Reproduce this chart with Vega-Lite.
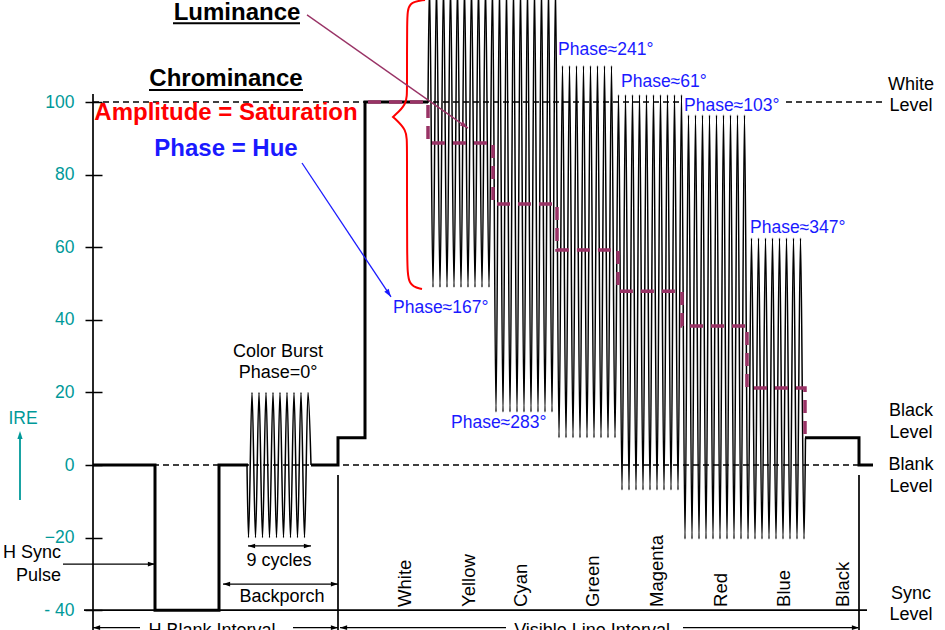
{
  "$schema": "https://vega.github.io/schema/vega-lite/v6.json",
  "width": 945,
  "height": 630,
  "padding": 0,
  "autosize": {"type": "none"},
  "background": "white",
  "config": {"view": {"stroke": null}, "font": "Liberation Sans", "text": {"font": "Liberation Sans"}},
  "datasets": {
    "sync": [
      {"s": "a", "o": 1, "x": 93, "y": 0}, {"s": "a", "o": 2, "x": 155, "y": 0}, {"s": "a", "o": 3, "x": 155, "y": -40},
      {"s": "a", "o": 4, "x": 219, "y": -40}, {"s": "a", "o": 5, "x": 219, "y": 0}, {"s": "a", "o": 6, "x": 248, "y": 0},
      {"s": "b", "o": 1, "x": 311, "y": 0}, {"s": "b", "o": 2, "x": 338, "y": 0}, {"s": "b", "o": 3, "x": 338, "y": 7.5},
      {"s": "b", "o": 4, "x": 365, "y": 7.5}, {"s": "b", "o": 5, "x": 365, "y": 100}, {"s": "b", "o": 6, "x": 428, "y": 100},
      {"s": "c", "o": 1, "x": 805, "y": 7.5}, {"s": "c", "o": 2, "x": 859, "y": 7.5}, {"s": "c", "o": 3, "x": 859, "y": 0},
      {"s": "c", "o": 4, "x": 873, "y": 0}
    ],
    "chroma": [
      {"s": "burst", "x": 247, "y": 0},
      {"s": "burst", "x": 248.5, "y": -20}, {"s": "burst", "x": 252, "y": 20}, {"s": "burst", "x": 255.5, "y": -20},
      {"s": "burst", "x": 259, "y": 20}, {"s": "burst", "x": 262.5, "y": -20}, {"s": "burst", "x": 266, "y": 20},
      {"s": "burst", "x": 269.5, "y": -20}, {"s": "burst", "x": 273, "y": 20}, {"s": "burst", "x": 276.5, "y": -20},
      {"s": "burst", "x": 280, "y": 20}, {"s": "burst", "x": 283.5, "y": -20}, {"s": "burst", "x": 287, "y": 20},
      {"s": "burst", "x": 290.5, "y": -20}, {"s": "burst", "x": 294, "y": 20}, {"s": "burst", "x": 297.5, "y": -20},
      {"s": "burst", "x": 301, "y": 20}, {"s": "burst", "x": 304.5, "y": -20}, {"s": "burst", "x": 308, "y": 20},
      {"s": "burst", "x": 311, "y": 0},
      {"s": "bars", "x": 428, "y": 100},
      {"s": "bars", "x": 429.5, "y": 133}, {"s": "bars", "x": 433, "y": 49}, {"s": "bars", "x": 436.5, "y": 133},
      {"s": "bars", "x": 440, "y": 49}, {"s": "bars", "x": 443.5, "y": 133}, {"s": "bars", "x": 447, "y": 49},
      {"s": "bars", "x": 450.5, "y": 133}, {"s": "bars", "x": 454, "y": 49}, {"s": "bars", "x": 457.5, "y": 133},
      {"s": "bars", "x": 461, "y": 49}, {"s": "bars", "x": 464.5, "y": 133}, {"s": "bars", "x": 468, "y": 49},
      {"s": "bars", "x": 471.5, "y": 133}, {"s": "bars", "x": 475, "y": 49}, {"s": "bars", "x": 478.5, "y": 133},
      {"s": "bars", "x": 482, "y": 49}, {"s": "bars", "x": 485.5, "y": 133}, {"s": "bars", "x": 489, "y": 49},
      {"s": "bars", "x": 492.5, "y": 133},
      {"s": "bars", "x": 496, "y": 14.6}, {"s": "bars", "x": 499.5, "y": 133}, {"s": "bars", "x": 503, "y": 14.6},
      {"s": "bars", "x": 506.5, "y": 133}, {"s": "bars", "x": 510, "y": 14.6}, {"s": "bars", "x": 513.5, "y": 133},
      {"s": "bars", "x": 517, "y": 14.6}, {"s": "bars", "x": 520.5, "y": 133}, {"s": "bars", "x": 524, "y": 14.6},
      {"s": "bars", "x": 527.5, "y": 133}, {"s": "bars", "x": 531, "y": 14.6}, {"s": "bars", "x": 534.5, "y": 133},
      {"s": "bars", "x": 538, "y": 14.6}, {"s": "bars", "x": 541.5, "y": 133}, {"s": "bars", "x": 545, "y": 14.6},
      {"s": "bars", "x": 548.5, "y": 133}, {"s": "bars", "x": 552, "y": 14.6}, {"s": "bars", "x": 555.5, "y": 133},
      {"s": "bars", "x": 559, "y": 7.5}, {"s": "bars", "x": 562.5, "y": 110}, {"s": "bars", "x": 566, "y": 7.5},
      {"s": "bars", "x": 569.5, "y": 110}, {"s": "bars", "x": 573, "y": 7.5}, {"s": "bars", "x": 576.5, "y": 110},
      {"s": "bars", "x": 580, "y": 7.5}, {"s": "bars", "x": 583.5, "y": 110}, {"s": "bars", "x": 587, "y": 7.5},
      {"s": "bars", "x": 590.5, "y": 110}, {"s": "bars", "x": 594, "y": 7.5}, {"s": "bars", "x": 597.5, "y": 110},
      {"s": "bars", "x": 601, "y": 7.5}, {"s": "bars", "x": 604.5, "y": 110}, {"s": "bars", "x": 608, "y": 7.5},
      {"s": "bars", "x": 611.5, "y": 110}, {"s": "bars", "x": 615, "y": 7.5},
      {"s": "bars", "x": 618.5, "y": 102}, {"s": "bars", "x": 622, "y": -6.9}, {"s": "bars", "x": 625.5, "y": 102},
      {"s": "bars", "x": 629, "y": -6.9}, {"s": "bars", "x": 632.5, "y": 102}, {"s": "bars", "x": 636, "y": -6.9},
      {"s": "bars", "x": 639.5, "y": 102}, {"s": "bars", "x": 643, "y": -6.9}, {"s": "bars", "x": 646.5, "y": 102},
      {"s": "bars", "x": 650, "y": -6.9}, {"s": "bars", "x": 653.5, "y": 102}, {"s": "bars", "x": 657, "y": -6.9},
      {"s": "bars", "x": 660.5, "y": 102}, {"s": "bars", "x": 664, "y": -6.9}, {"s": "bars", "x": 667.5, "y": 102},
      {"s": "bars", "x": 671, "y": -6.9}, {"s": "bars", "x": 674.5, "y": 102}, {"s": "bars", "x": 678, "y": -6.9},
      {"s": "bars", "x": 681.5, "y": 102},
      {"s": "bars", "x": 685, "y": -20.4}, {"s": "bars", "x": 688.5, "y": 96.4}, {"s": "bars", "x": 692, "y": -20.4},
      {"s": "bars", "x": 695.5, "y": 96.4}, {"s": "bars", "x": 699, "y": -20.4}, {"s": "bars", "x": 702.5, "y": 96.4},
      {"s": "bars", "x": 706, "y": -20.4}, {"s": "bars", "x": 709.5, "y": 96.4}, {"s": "bars", "x": 713, "y": -20.4},
      {"s": "bars", "x": 716.5, "y": 96.4}, {"s": "bars", "x": 720, "y": -20.4}, {"s": "bars", "x": 723.5, "y": 96.4},
      {"s": "bars", "x": 727, "y": -20.4}, {"s": "bars", "x": 730.5, "y": 96.4}, {"s": "bars", "x": 734, "y": -20.4},
      {"s": "bars", "x": 737.5, "y": 96.4}, {"s": "bars", "x": 741, "y": -20.4}, {"s": "bars", "x": 744.5, "y": 96.4},
      {"s": "bars", "x": 748, "y": -20.4}, {"s": "bars", "x": 751.5, "y": 62.5}, {"s": "bars", "x": 755, "y": -20.4},
      {"s": "bars", "x": 758.5, "y": 62.5}, {"s": "bars", "x": 762, "y": -20.4}, {"s": "bars", "x": 765.5, "y": 62.5},
      {"s": "bars", "x": 769, "y": -20.4}, {"s": "bars", "x": 772.5, "y": 62.5}, {"s": "bars", "x": 776, "y": -20.4},
      {"s": "bars", "x": 779.5, "y": 62.5}, {"s": "bars", "x": 783, "y": -20.4}, {"s": "bars", "x": 786.5, "y": 62.5},
      {"s": "bars", "x": 790, "y": -20.4}, {"s": "bars", "x": 793.5, "y": 62.5}, {"s": "bars", "x": 797, "y": -20.4},
      {"s": "bars", "x": 800.5, "y": 62.5}, {"s": "bars", "x": 804, "y": -20.4},
      {"s": "bars", "x": 805.5, "y": 7.5}
    ],
    "luma": [
      {"o": 1, "x": 368, "y": 100}, {"o": 2, "x": 428, "y": 100}, {"o": 3, "x": 428, "y": 88.7}, {"o": 4, "x": 493, "y": 88.7},
      {"o": 5, "x": 493, "y": 71.9}, {"o": 6, "x": 557, "y": 71.9}, {"o": 7, "x": 557, "y": 59.2}, {"o": 8, "x": 618, "y": 59.2},
      {"o": 9, "x": 618, "y": 47.9}, {"o": 10, "x": 682, "y": 47.9}, {"o": 11, "x": 682, "y": 38.3}, {"o": 12, "x": 747, "y": 38.3},
      {"o": 13, "x": 747, "y": 21.2}, {"o": 14, "x": 805, "y": 21.2}, {"o": 15, "x": 805, "y": 7.5}
    ],
    "brace": [
      {"o": 1, "x": 425, "y": 128.1}, {"o": 2, "x": 408, "y": 127.5}, {"o": 3, "x": 407, "y": 123.1}, {"o": 4, "x": 407, "y": 103.3},
      {"o": 5, "x": 407, "y": 99.4}, {"o": 6, "x": 393, "y": 95.9}, {"o": 7, "x": 393, "y": 95.9}, {"o": 8, "x": 393, "y": 95.9},
      {"o": 9, "x": 407, "y": 92.3}, {"o": 10, "x": 407, "y": 88.4}, {"o": 11, "x": 407, "y": 55.9}, {"o": 12, "x": 408, "y": 49.3},
      {"o": 13, "x": 422, "y": 48.5}, {"o": 14, "x": 422, "y": 48.5}, {"o": 15, "x": 422, "y": 48.5}
    ],
    "dashed": [
      {"x": 93, "x2": 682, "y": 100, "y2": 100},
      {"x": 786, "x2": 883, "y": 100, "y2": 100},
      {"x": 93, "x2": 873, "y": 0, "y2": 0}
    ],
    "thin": [
      {"x": 93, "x2": 93, "y": 102.2, "y2": -45.45},
      {"x": 84, "x2": 867, "y": -40, "y2": -40},
      {"x": 338, "x2": 338, "y": -2.75, "y2": -45.45},
      {"x": 859, "x2": 859, "y": -2.75, "y2": -45.45}
    ],
    "arrowlines": [
      {"x": 248, "x2": 311, "y": -22.3, "y2": -22.3},
      {"x": 223, "x2": 338, "y": -32.8, "y2": -32.8},
      {"x": 63, "x2": 154, "y": -27.3, "y2": -27.3},
      {"x": 93, "x2": 140, "y": -44.8, "y2": -44.8},
      {"x": 293, "x2": 338, "y": -44.8, "y2": -44.8},
      {"x": 340, "x2": 506, "y": -44.8, "y2": -44.8},
      {"x": 683, "x2": 858, "y": -44.8, "y2": -44.8}
    ],
    "heads": [
      {"x": 248, "y": -22.3, "a": 270}, {"x": 311, "y": -22.3, "a": 90},
      {"x": 223, "y": -32.8, "a": 270}, {"x": 338, "y": -32.8, "a": 90},
      {"x": 155, "y": -27.3, "a": 90},
      {"x": 93, "y": -44.8, "a": 270}, {"x": 338, "y": -44.8, "a": 90},
      {"x": 340, "y": -44.8, "a": 270}, {"x": 859, "y": -44.8, "a": 90}
    ],
    "underlines": [
      {"x": 173, "x2": 300, "y": 121.7, "y2": 121.7},
      {"x": 149, "x2": 303, "y": 103.3, "y2": 103.3}
    ],
    "ire": [{"x": 20, "x2": 20, "y": -9.64, "y2": 8.5, "a": 0, "hy": 9.4}],
    "lumarrow": [{"x": 307, "y": 124, "x2": 468, "y2": 92.8, "a": 125.5}],
    "huearrow": [{"x": 302, "y": 83.2, "x2": 391, "y2": 46.3, "a": 146}],
    "texts": [
      {"k": "title", "t": "Luminance", "x": 237, "y": 122.7},
      {"k": "title", "t": "Chrominance", "x": 226, "y": 104.4},
      {"k": "red", "t": "Amplitude = Saturation", "x": 226, "y": 95.0},
      {"k": "bluebold", "t": "Phase = Hue", "x": 226, "y": 85.1},
      {"k": "phase", "t": "Phase≈241°", "x": 558, "y": 114.3},
      {"k": "phase", "t": "Phase≈61°", "x": 621, "y": 105.5},
      {"k": "phase", "t": "Phase≈103°", "x": 684, "y": 98.9},
      {"k": "phase", "t": "Phase≈347°", "x": 750, "y": 65.3},
      {"k": "phase", "t": "Phase≈167°", "x": 393, "y": 43.3},
      {"k": "phase", "t": "Phase≈283°", "x": 451, "y": 11.6},
      {"k": "note", "t": "Color Burst", "x": 278, "y": 31.1},
      {"k": "note", "t": "Phase=0°", "x": 278, "y": 25.3},
      {"k": "note", "t": "9 cycles", "x": 279, "y": -26.4},
      {"k": "note", "t": "Backporch", "x": 282, "y": -36.4},
      {"k": "note", "t": "White", "x": 911, "y": 104.7},
      {"k": "note", "t": "Level", "x": 911, "y": 98.9},
      {"k": "note", "t": "Black", "x": 911, "y": 14.9},
      {"k": "note", "t": "Level", "x": 911, "y": 8.8},
      {"k": "note", "t": "Blank", "x": 911, "y": 0},
      {"k": "note", "t": "Level", "x": 911, "y": -6.1},
      {"k": "note", "t": "Sync", "x": 911, "y": -35.5},
      {"k": "note", "t": "Level", "x": 911, "y": -41.3},
      {"k": "bottom", "t": "H Blank Interval", "x": 212, "y": -47.1},
      {"k": "bottom", "t": "Visible Line Interval", "x": 592, "y": -47.1},
      {"k": "hsync", "t": "H Sync", "x": 61, "y": -24.3},
      {"k": "hsync", "t": "Pulse", "x": 61, "y": -30.5},
      {"k": "ire", "t": "IRE", "x": 23, "y": 12.7},
      {"k": "vert", "t": "White", "x": 404.5, "y": -39.1},
      {"k": "vert", "t": "Yellow", "x": 469, "y": -39.1},
      {"k": "vert", "t": "Cyan", "x": 521, "y": -39.1},
      {"k": "vert", "t": "Green", "x": 593, "y": -39.1},
      {"k": "vert", "t": "Magenta", "x": 657, "y": -39.1},
      {"k": "vert", "t": "Red", "x": 721, "y": -39.1},
      {"k": "vert", "t": "Blue", "x": 784, "y": -39.1},
      {"k": "vert", "t": "Black", "x": 843, "y": -39.1}
    ]
  },
  "encoding": {
    "x": {"field": "x", "type": "quantitative", "scale": {"domain": [0, 945], "nice": false, "zero": false}, "axis": null},
    "y": {
      "field": "y", "type": "quantitative",
      "scale": {"domain": [-45.45, 128.1], "nice": false, "zero": false},
      "axis": {
        "title": null, "offset": -102, "domain": false, "grid": false,
        "values": [-40, -20, 0, 20, 40, 60, 80, 100],
        "tickSize": 17, "tickColor": "black", "tickWidth": 1.5,
        "labelPadding": 11, "labelColor": "#009999", "labelFontSize": 17.5, "labelFont": "Liberation Sans",
        "labelExpr": "datum.value == -40 ? '- 40' : datum.label"
      }
    }
  },
  "layer": [
    {"data": {"name": "chroma"}, "mark": {"type": "line", "interpolate": "monotone", "color": "black", "strokeWidth": 1.5, "clip": true},
     "encoding": {"detail": {"field": "s"}}},
    {"data": {"name": "dashed"}, "mark": {"type": "rule", "color": "black", "strokeWidth": 1.3, "strokeDash": [6, 4]},
     "encoding": {"x2": {"field": "x2"}, "y2": {"field": "y2"}}},
    {"data": {"name": "thin"}, "mark": {"type": "rule", "color": "black", "strokeWidth": 1.7},
     "encoding": {"x2": {"field": "x2"}, "y2": {"field": "y2"}}},
    {"data": {"name": "sync"}, "mark": {"type": "line", "color": "black", "strokeWidth": 3, "strokeJoin": "miter"},
     "encoding": {"detail": {"field": "s"}, "order": {"field": "o", "type": "quantitative"}}},
    {"data": {"name": "luma"}, "mark": {"type": "line", "color": "#993366", "strokeWidth": 3.5, "strokeDash": [13, 8]},
     "encoding": {"order": {"field": "o", "type": "quantitative"}}},
    {"data": {"name": "brace"}, "mark": {"type": "line", "color": "#FF0000", "strokeWidth": 2, "interpolate": "basis", "clip": true},
     "encoding": {"order": {"field": "o", "type": "quantitative"}}},
    {"data": {"name": "arrowlines"}, "mark": {"type": "rule", "color": "black", "strokeWidth": 1.3},
     "encoding": {"x2": {"field": "x2"}, "y2": {"field": "y2"}}},
    {"data": {"name": "heads"}, "mark": {"type": "point", "shape": "M0,0L-0.55,1.7L0.55,1.7Z", "filled": true, "size": 70, "color": "black", "opacity": 1},
     "encoding": {"angle": {"field": "a", "type": "quantitative", "scale": null}}},
    {"data": {"name": "underlines"}, "mark": {"type": "rule", "color": "black", "strokeWidth": 2},
     "encoding": {"x2": {"field": "x2"}, "y2": {"field": "y2"}}},
    {"data": {"name": "ire"}, "mark": {"type": "rule", "color": "#009999", "strokeWidth": 1.8},
     "encoding": {"x2": {"field": "x2"}, "y2": {"field": "y2"}}},
    {"data": {"name": "ire"}, "mark": {"type": "point", "shape": "M0,0L-0.55,1.7L0.55,1.7Z", "filled": true, "size": 90, "color": "#009999", "opacity": 1},
     "encoding": {"y": {"field": "hy", "type": "quantitative"}, "angle": {"field": "a", "type": "quantitative", "scale": null}}},
    {"data": {"name": "lumarrow"}, "mark": {"type": "rule", "color": "#993366", "strokeWidth": 1.3},
     "encoding": {"x2": {"field": "x2"}, "y2": {"field": "y2"}}},
    {"data": {"name": "lumarrow"}, "mark": {"type": "point", "shape": "M0,0L-0.55,1.7L0.55,1.7Z", "filled": true, "size": 90, "color": "#993366", "opacity": 1},
     "encoding": {"x": {"field": "x2", "type": "quantitative"}, "y": {"field": "y2", "type": "quantitative"}, "angle": {"field": "a", "type": "quantitative", "scale": null}}},
    {"data": {"name": "huearrow"}, "mark": {"type": "rule", "color": "#1a1aff", "strokeWidth": 1.3},
     "encoding": {"x2": {"field": "x2"}, "y2": {"field": "y2"}}},
    {"data": {"name": "huearrow"}, "mark": {"type": "point", "shape": "M0,0L-0.55,1.7L0.55,1.7Z", "filled": true, "size": 90, "color": "#1a1aff", "opacity": 1},
     "encoding": {"x": {"field": "x2", "type": "quantitative"}, "y": {"field": "y2", "type": "quantitative"}, "angle": {"field": "a", "type": "quantitative", "scale": null}}},
    {"data": {"name": "texts"}, "transform": [{"filter": "datum.k == 'title'"}],
     "mark": {"type": "text", "fontSize": 24, "fontWeight": "bold", "color": "black", "align": "center", "baseline": "alphabetic"},
     "encoding": {"text": {"field": "t"}}},
    {"data": {"name": "texts"}, "transform": [{"filter": "datum.k == 'red'"}],
     "mark": {"type": "text", "fontSize": 24, "fontWeight": "bold", "color": "#FF0000", "align": "center", "baseline": "alphabetic"},
     "encoding": {"text": {"field": "t"}}},
    {"data": {"name": "texts"}, "transform": [{"filter": "datum.k == 'bluebold'"}],
     "mark": {"type": "text", "fontSize": 24, "fontWeight": "bold", "color": "#1a1aff", "align": "center", "baseline": "alphabetic"},
     "encoding": {"text": {"field": "t"}}},
    {"data": {"name": "texts"}, "transform": [{"filter": "datum.k == 'phase'"}],
     "mark": {"type": "text", "fontSize": 17.5, "color": "#1a1aff", "align": "left", "baseline": "middle"},
     "encoding": {"text": {"field": "t"}}},
    {"data": {"name": "texts"}, "transform": [{"filter": "datum.k == 'note'"}],
     "mark": {"type": "text", "fontSize": 18, "color": "black", "align": "center", "baseline": "middle"},
     "encoding": {"text": {"field": "t"}}},
    {"data": {"name": "texts"}, "transform": [{"filter": "datum.k == 'bottom'"}],
     "mark": {"type": "text", "fontSize": 18, "color": "black", "align": "center", "baseline": "alphabetic"},
     "encoding": {"text": {"field": "t"}}},
    {"data": {"name": "texts"}, "transform": [{"filter": "datum.k == 'hsync'"}],
     "mark": {"type": "text", "fontSize": 18, "color": "black", "align": "right", "baseline": "middle"},
     "encoding": {"text": {"field": "t"}}},
    {"data": {"name": "texts"}, "transform": [{"filter": "datum.k == 'ire'"}],
     "mark": {"type": "text", "fontSize": 17.5, "color": "#009999", "align": "center", "baseline": "middle"},
     "encoding": {"text": {"field": "t"}}},
    {"data": {"name": "texts"}, "transform": [{"filter": "datum.k == 'vert'"}],
     "mark": {"type": "text", "fontSize": 18.5, "color": "black", "align": "left", "baseline": "middle", "angle": 270},
     "encoding": {"text": {"field": "t"}}}
  ]
}
